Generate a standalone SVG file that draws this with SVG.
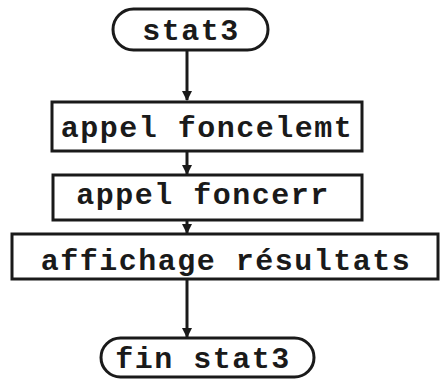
<svg xmlns="http://www.w3.org/2000/svg" width="441" height="381" viewBox="0 0 441 381">
<style>
.shape{fill:#fff;stroke:#1a1a1a;stroke-width:3}
.lbl{font-family:"Liberation Mono","DejaVu Sans Mono",monospace;font-weight:bold;font-size:30px;letter-spacing:1.5px;fill:#1a1a1a;text-anchor:middle}
.conn{stroke:#1a1a1a;stroke-width:3;fill:none}
</style>
<defs>
<marker id="ah" markerWidth="10" markerHeight="10" refX="9" refY="5" orient="auto" markerUnits="userSpaceOnUse">
<path d="M0,0 L10,5 L0,10 Z" fill="#1a1a1a"/>
</marker>
</defs>
<rect width="441" height="381" fill="#fff"/>
<g id="connectors">
<line class="conn" x1="187" y1="50" x2="187" y2="100" marker-end="url(#ah)"/>
<line class="conn" x1="187" y1="151" x2="187" y2="174" marker-end="url(#ah)"/>
<line class="conn" x1="187" y1="220" x2="187" y2="233" marker-end="url(#ah)"/>
<line class="conn" x1="187" y1="279" x2="187" y2="337" marker-end="url(#ah)"/>
</g>
<g id="start">
<rect class="shape" x="113" y="9" width="155" height="41" rx="20.5"/>
<text class="lbl" x="191" y="40">stat3</text>
</g>
<g id="appel-foncelemt">
<rect class="shape" x="52" y="102" width="310" height="49"/>
<text class="lbl" x="207" y="137">appel foncelemt</text>
</g>
<g id="appel-foncerr">
<rect class="shape" x="53" y="175" width="309" height="45"/>
<text class="lbl" x="203" y="204">appel foncerr</text>
</g>
<g id="affichage">
<rect class="shape" x="12" y="234" width="426" height="45"/>
<text class="lbl" x="226" y="270">affichage résultats</text>
</g>
<g id="end">
<rect class="shape" x="101" y="338" width="213" height="39" rx="19.5"/>
<text class="lbl" x="203" y="368">fin stat3</text>
</g>
</svg>
